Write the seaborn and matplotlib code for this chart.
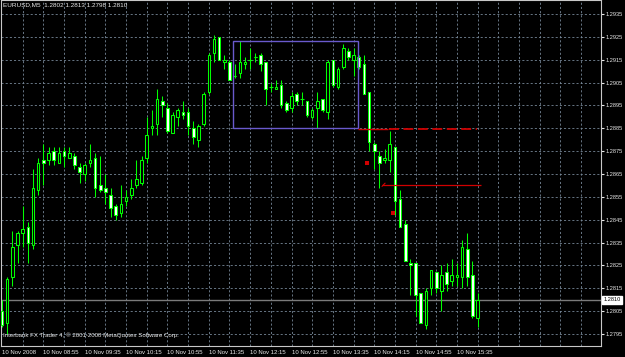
import numpy as np
import pandas as pd
import seaborn as sns
import matplotlib
matplotlib.use("Agg")
import matplotlib.pyplot as plt
import matplotlib.transforms as mtransforms
from matplotlib.patches import Rectangle

# ---------------- data ----------------
opens = [1.2805, 1.2800, 1.2820, 1.2834, 1.2839, 1.2842, 1.2834, 1.2858, 1.2871, 1.2871,
         1.2875, 1.2870, 1.2875, 1.2872, 1.2873, 1.2868, 1.2865, 1.2870, 1.2872, 1.2860,
         1.2859, 1.2856, 1.2851, 1.2848, 1.2853, 1.2856, 1.2860, 1.2861, 1.2872, 1.2885,
         1.2887, 1.2897, 1.2894, 1.2883, 1.2890, 1.2892, 1.2892, 1.2885, 1.2880, 1.2887,
         1.2901, 1.2918, 1.2925, 1.2914, 1.2914, 1.2908, 1.2909, 1.2913, 1.2915, 1.2916,
         1.2917, 1.2914, 1.2903, 1.2902, 1.2904, 1.2896, 1.2894, 1.2900, 1.2898, 1.2897,
         1.2890, 1.2894, 1.2898, 1.2892, 1.2915, 1.2903, 1.2912, 1.2919, 1.2915, 1.2916,
         1.2913, 1.2901, 1.2878, 1.2873, 1.2871, 1.2871, 1.2877, 1.2854, 1.2843, 1.2826,
         1.2826, 1.2813, 1.2799, 1.2815, 1.2822, 1.2814, 1.2822, 1.2818, 1.2820, 1.2820,
         1.2832, 1.2821, 1.2802]
highs = [1.2810, 1.2820, 1.2840, 1.2840, 1.2851, 1.2844, 1.2867, 1.2872, 1.2878, 1.2877,
         1.2877, 1.2877, 1.2877, 1.2877, 1.2874, 1.2870, 1.2870, 1.2878, 1.2874, 1.2873,
         1.2865, 1.2859, 1.2852, 1.2860, 1.2858, 1.2863, 1.2871, 1.2873, 1.2890, 1.2893,
         1.2902, 1.2899, 1.2896, 1.2892, 1.2894, 1.2897, 1.2894, 1.2888, 1.2887, 1.2901,
         1.2918, 1.2926, 1.2925, 1.2917, 1.2915, 1.2913, 1.2923, 1.2916, 1.2920, 1.2918,
         1.2918, 1.2914, 1.2905, 1.2906, 1.2906, 1.2897, 1.2901, 1.2901, 1.2901, 1.2897,
         1.2894, 1.2901, 1.2898, 1.2915, 1.2915, 1.2912, 1.2922, 1.2920, 1.2920, 1.2917,
         1.2917, 1.2901, 1.2879, 1.2875, 1.2876, 1.2884, 1.2877, 1.2858, 1.2845, 1.2828,
         1.2826, 1.2813, 1.2815, 1.2823, 1.2822, 1.2825, 1.2826, 1.2828, 1.2826, 1.2836,
         1.2839, 1.2827, 1.2813]
lows = [1.2798, 1.2795, 1.2816, 1.2826, 1.2833, 1.2826, 1.2832, 1.2856, 1.2860, 1.2869,
        1.2869, 1.2870, 1.2868, 1.2872, 1.2867, 1.2861, 1.2862, 1.2868, 1.2855, 1.2857,
        1.2852, 1.2846, 1.2845, 1.2846, 1.2851, 1.2854, 1.2859, 1.2860, 1.2870, 1.2882,
        1.2882, 1.2890, 1.2883, 1.2883, 1.2886, 1.2889, 1.2882, 1.2878, 1.2877, 1.2886,
        1.2900, 1.2914, 1.2915, 1.2911, 1.2906, 1.2907, 1.2907, 1.2911, 1.2911, 1.2914,
        1.2910, 1.2895, 1.2901, 1.2902, 1.2894, 1.2892, 1.2892, 1.2895, 1.2895, 1.2890,
        1.2889, 1.2885, 1.2892, 1.2889, 1.2903, 1.2902, 1.2911, 1.2915, 1.2908, 1.2911,
        1.2900, 1.2875, 1.2867, 1.2859, 1.2870, 1.2866, 1.2847, 1.2842, 1.2827, 1.2812,
        1.2803, 1.2800, 1.2797, 1.2812, 1.2813, 1.2805, 1.2814, 1.2816, 1.2816, 1.2815,
        1.2816, 1.2802, 1.2798]
closes = [1.2799, 1.2819, 1.2833, 1.2839, 1.2841, 1.2835, 1.2859, 1.2870, 1.2870, 1.2874,
          1.2871, 1.2874, 1.2873, 1.2874, 1.2869, 1.2866, 1.2869, 1.2871, 1.2859, 1.2858,
          1.2857, 1.2850, 1.2847, 1.2852, 1.2855, 1.2859, 1.2863, 1.2871, 1.2882, 1.2886,
          1.2898, 1.2895, 1.2884, 1.2891, 1.2893, 1.2891, 1.2886, 1.2881, 1.2886, 1.2900,
          1.2917, 1.2924, 1.2915, 1.2915, 1.2906, 1.2908, 1.2914, 1.2914, 1.2915, 1.2916,
          1.2913, 1.2902, 1.2903, 1.2903, 1.2895, 1.2893, 1.2899, 1.2897, 1.2898, 1.2891,
          1.2893, 1.2897, 1.2893, 1.2914, 1.2904, 1.2911, 1.2920, 1.2916, 1.2917, 1.2912,
          1.2900, 1.2879, 1.2875, 1.2870, 1.2872, 1.2878, 1.2853, 1.2842, 1.2827, 1.2825,
          1.2812, 1.2800, 1.2814, 1.2823, 1.2815, 1.2821, 1.2817, 1.2821, 1.2821, 1.2833,
          1.2820, 1.2803, 1.2810]

time_labels = ["10 Nov 2008", "10 Nov 08:55", "10 Nov 09:35", "10 Nov 10:15",
               "10 Nov 10:55", "10 Nov 11:35", "10 Nov 12:15", "10 Nov 12:55",
               "10 Nov 13:35", "10 Nov 14:15", "10 Nov 14:55", "10 Nov 15:35"]
price_ticks = [1.2935, 1.2925, 1.2915, 1.2905, 1.2895, 1.2885, 1.2875, 1.2865,
               1.2855, 1.2845, 1.2835, 1.2825, 1.2815, 1.2805, 1.2795]
current_price = 1.2810
title_text = "EURUSD,M5  1.2802 1.2813 1.2798 1.2810"
footer_text = "Interbank FX Trader 4, \u00a9 2001-2008 MetaQuotes Software Corp."

# drawn objects (in bar / price units)
rect_bars = [44.7, 68.8]
rect_prices = [1.2885, 1.2923]
red_solid1_bars = [68.8, 74.6]
red_level1 = 1.28848
red_dash1_bars = [74.9, 91.8]
red_level2 = 1.2860
red_line2_bars = [73.5, 92.6]
red_marks_bars = [70.6, 75.6]
red_marks_prices = [1.2870, 1.2848]

df = pd.DataFrame({"open": opens, "high": highs, "low": lows, "close": closes})
df["bar"] = np.arange(len(df))
df["bull"] = df["close"] >= df["open"]

# ---------------- style ----------------
sns.set_theme(style="dark", rc={"axes.facecolor": "black", "figure.facecolor": "black"})
plt.rcParams["font.family"] = ["Liberation Sans", "DejaVu Sans"]

FG = "#e8e8e8"
GREEN = "#00ff00"
GRID = "#778899"
RED = "#d00000"
FS_TICK = 4.1
FS_X = 4.3

fig = plt.figure(figsize=(6.25, 3.57), dpi=100, facecolor="black")
ax = fig.add_axes([1 / 625, 11 / 357, 600 / 625, 346 / 357])
ax.set_facecolor("black")

px_per_unit = 22860.0
px_per_bar = 5.17
y_top = 1.2935 + 14 / px_per_unit
y_bot = 1.2935 - 332 / px_per_unit
ax.set_ylim(y_bot, y_top)
ax.set_xlim(-1 / px_per_bar, 599 / px_per_bar)

# grid
for p in price_ticks:
    ax.axhline(p, color=GRID, lw=0.6, ls=(0, (2.5, 2.5)), zorder=0)
for b in range(4, 116, 4):
    ax.axvline(b, color=GRID, lw=0.6, ls=(0, (2.5, 2.5)), zorder=0)

# current price line
ax.axhline(current_price, color="#7a7a7a", lw=1.0, zorder=1)

# candles
ax.vlines(df["bar"], df["low"], df["high"], color=GREEN, lw=0.75, zorder=2)
bull = df[df["bull"]]
bear = df[~df["bull"]]
ax.bar(bull["bar"], bull["close"] - bull["open"], bottom=bull["open"], width=0.5,
       facecolor="black", edgecolor=GREEN, linewidth=0.75, zorder=3)
ax.bar(bear["bar"], bear["close"] - bear["open"], bottom=bear["open"], width=0.5,
       facecolor="white", edgecolor=GREEN, linewidth=0.75, zorder=3)
doji = df[df["open"] == df["close"]]
ax.hlines(doji["close"], doji["bar"] - 0.35, doji["bar"] + 0.35, color=GREEN, lw=0.8, zorder=3)

# objects
ax.add_patch(Rectangle((rect_bars[0], rect_prices[0]), rect_bars[1] - rect_bars[0],
                       rect_prices[1] - rect_prices[0], fill=False,
                       edgecolor="#6a5acd", lw=1.0, zorder=4))
ax.hlines(red_level1, *red_solid1_bars, color=RED, lw=1.0, zorder=4)
ax.hlines(red_level1, *red_dash1_bars, color=RED, lw=1.3, ls=(0, (5.5, 2.5)), zorder=4)
ax.hlines(red_level2, *red_line2_bars, color=RED, lw=0.9, zorder=4)
ax.plot([red_line2_bars[0], red_line2_bars[0] + 0.6], [red_level2 - 0.00004, red_level2 + 0.0001],
        color=RED, lw=0.8, zorder=4)
ax.scatter(red_marks_bars, red_marks_prices, marker="s", s=6, color=RED, zorder=5, linewidths=0)

# spines
for s in ax.spines.values():
    s.set_visible(True)
    s.set_color("#c8c8c8")
    s.set_linewidth(0.8)

# ticks
ax.yaxis.tick_right()
ax.set_yticks(price_ticks)
ax.set_yticklabels([f"{p:.4f}" for p in price_ticks])
label_bars = np.arange(len(time_labels)) * 8
ax.set_xticks(label_bars)
ax.set_xticklabels(time_labels, ha="left")
ax.tick_params(axis="y", colors=FG, labelcolor=FG, length=2.5, width=0.8, pad=1.0,
               labelsize=FS_TICK, direction="out", right=True, left=False)
ax.tick_params(axis="x", colors=FG, labelcolor=FG, length=2.0, width=0.8, pad=0.6,
               labelsize=FS_X, direction="out")
ax.grid(False)

# current price label
trans = mtransforms.blended_transform_factory(ax.transAxes, ax.transData)
ax.text(1.004, current_price, f"{current_price:.4f}", transform=trans, ha="left", va="center",
        fontsize=FS_TICK, color="black", clip_on=False, zorder=6,
        bbox=dict(facecolor="white", edgecolor="white", boxstyle="square,pad=0.3"))

# texts
ax.text(0.004, 0.993, title_text, transform=ax.transAxes, ha="left", va="top",
        fontsize=4.6, color=FG)
ax.text(0.004, 0.022, footer_text, transform=ax.transAxes, ha="left", va="bottom",
        fontsize=4.4, color=FG)

fig.savefig("out.png", dpi=100, facecolor="black")
